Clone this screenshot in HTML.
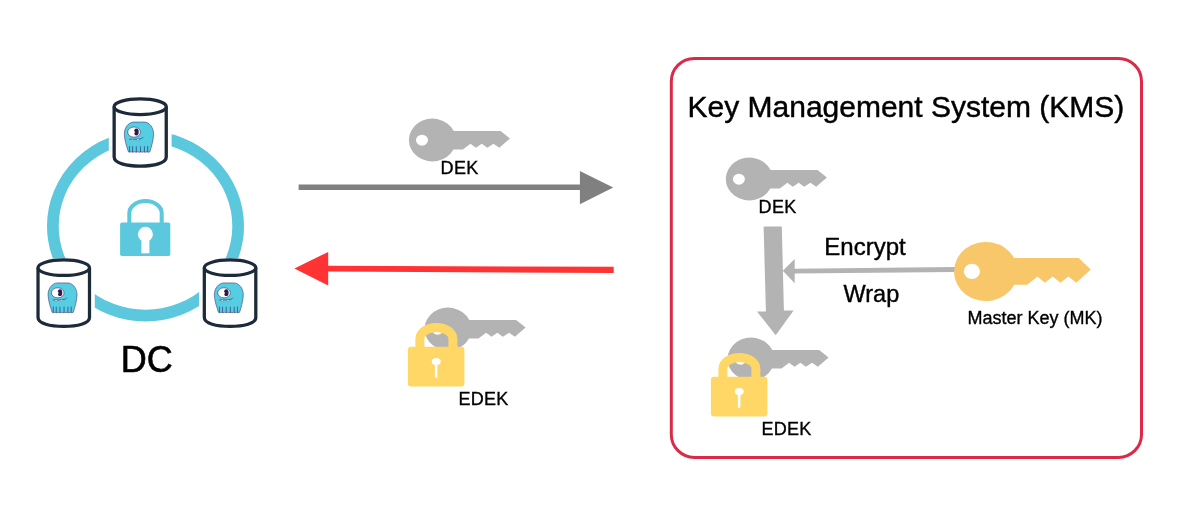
<!DOCTYPE html>
<html>
<head>
<meta charset="utf-8">
<style>
html,body{margin:0;padding:0;background:#ffffff;}
body{width:1200px;height:510px;overflow:hidden;position:relative;font-family:"Liberation Sans",sans-serif;}
svg{position:absolute;left:0;top:0;display:block;will-change:transform;}
text{font-family:"Liberation Sans",sans-serif;fill:#000;}
</style>
</head>
<body>
<svg width="1200" height="510" viewBox="0 0 1200 510">
<defs>
  <!-- key: origin = head bbox left/top; ~101 x 43 -->
  <g id="key">
    <path fill-rule="evenodd" d="M44.82 12.4 H91.7 L101.1 20 L90.4 29.2 L84.6 25.2 L78.4 29.2 L72.9 25.2 L67 29.2 L61.6 25.2 L54 31 H44.5 A23.5 21.4 0 1 1 44.82 12.4 Z M19.1 21.6 A6 5.5 0 1 0 7.1 21.6 A6 5.5 0 1 0 19.1 21.6 Z"/>
  </g>
  <!-- cylinder: origin = outer bbox left/top; 55.4 x 70.5 -->
  <g id="cyl">
    <rect x="-3.7" y="0" width="62.8" height="72" fill="#fff"/>
    <path d="M1.65 9.5 V59.8 C1.65 66 14 68.85 27.7 68.85 C41.4 68.85 53.75 66 53.75 59.8 V9.5" fill="#fff" stroke="#1d2a3a" stroke-width="3.3"/>
    <ellipse cx="27.7" cy="9.5" rx="26.05" ry="7.85" fill="#fff" stroke="#1d2a3a" stroke-width="3.3"/>
    <use href="#scylla" x="11.5" y="25.2"/>
  </g>
  <!-- scylla monster, ~30x30 -->
  <g id="scylla">
    <path d="M4.4 29.4 C3 24.5 0.5 18.5 0.3 11.8 C0.3 5.1 4.65 -0.35 10 -0.35 H20 C25.3 -0.35 29.7 5.1 29.6 11.8 C29.4 18.5 27.3 24.5 25.9 29.4 Q24.36 30.3 22.83 29.4 Q21.29 30.3 19.76 29.4 Q18.22 30.3 16.69 29.4 Q15.15 30.3 13.61 29.4 Q12.08 30.3 10.54 29.4 Q9.01 30.3 7.47 29.4 Q5.94 30.3 4.40 29.4 Z" fill="#55cde3" stroke="#3d2b63" stroke-width="0.55"/>
    <ellipse cx="10.1" cy="9.7" rx="6.4" ry="5.1" fill="#fff" stroke="#3d2b63" stroke-width="0.6"/>
    <path fill-rule="evenodd" d="M12.4 6.2 A2.3 3.4 0 1 1 12.4 13 A2.3 3.4 0 1 1 12.4 6.2 Z" fill="#2c1a50"/><ellipse cx="10.1" cy="9.8" rx="0.9" ry="1.0" fill="#fff"/>
    <path d="M5.2 16.9 C9 17.1 13 16.9 16.8 16.4 C17.8 16.1 18.6 15.6 19.3 14.6" fill="none" stroke="#3d2b63" stroke-width="0.6"/>
    <ellipse cx="8.4" cy="17.5" rx="1.1" ry="0.75" fill="#fff" stroke="#3d2b63" stroke-width="0.3"/>
    <ellipse cx="14" cy="17.1" rx="1.1" ry="0.75" fill="#fff" stroke="#3d2b63" stroke-width="0.3"/>
    <g stroke="#33306e" stroke-width="0.9" opacity="0.75" stroke-linecap="round"><path d="M5.6 24 V29.2 M8.6 24.2 V29.5 M12.3 24.2 V29.5 M16.5 24.2 V29.5 M20.4 24.2 V29.5 M23.7 24 V29.3"/></g>
  </g>
  <!-- padlock yellow: origin = body left/top of shackle outer bbox -->
  <g id="ylock">
    <path d="M12 24 V15.8 A16.5 11.3 0 0 1 45 15.8 V24" fill="none" stroke="#fed766" stroke-width="9"/>
    <rect x="0" y="23.8" width="56.5" height="39.7" rx="3.2" fill="#fed766"/>
    <ellipse cx="28.3" cy="38.5" rx="4.5" ry="3.5" fill="#fff"/>
    <rect x="27" y="38.5" width="2.5" height="16.2" fill="#fff"/>
  </g>
</defs>

<!-- ===== DC cluster ===== -->
<ellipse cx="145.5" cy="226.1" rx="92.65" ry="89.45" fill="none" stroke="#5bc8dd" stroke-width="11.7"/>

<!-- cyan lock -->
<g fill="#5bc8dd">
  <path d="M129.3 223 V213 A16.2 12 0 0 1 161.7 213 V223" fill="none" stroke="#5bc8dd" stroke-width="4"/>
  <rect x="120.1" y="222.6" width="50.2" height="33.5" rx="1.8"/>
</g>
<circle cx="145.4" cy="234.3" r="7.5" fill="#fff"/>
<rect x="141.4" y="234.3" width="8" height="19" fill="#fff"/>

<use href="#cyl" x="112.5" y="97.2"/>
<use href="#cyl" transform="translate(36.39 258.35) scale(0.988)"/>
<use href="#cyl" transform="translate(202.69 258.35) scale(0.988)"/>

<text x="120.8" y="371.8" font-size="36" stroke="#000" stroke-width="0.6">DC</text>

<!-- ===== middle ===== -->
<use href="#key" x="408.9" y="118.6" fill="#b3b3b3"/>
<text x="440.6" y="173.9" font-size="18" letter-spacing="0.3" stroke="#000" stroke-width="0.35">DEK</text>

<!-- gray arrow -->
<path d="M298.6 184.6 H579.9 V171 L613.2 187.5 L579.9 204.2 V190.1 H298.6 Z" fill="#808080"/>

<!-- red arrow -->
<path d="M613.7 266.8 L613.7 272.9 L328.2 271.5 L328.2 285.4 L294.4 268.4 L328.2 251.9 L328.2 265.8 Z" fill="#ff3333"/>

<!-- EDEK middle -->
<use href="#key" x="424.5" y="307.6" fill="#b3b3b3"/>
<use href="#ylock" x="407.9" y="322.9"/>
<text x="458.4" y="404.75" font-size="18" letter-spacing="0.3" stroke="#000" stroke-width="0.35">EDEK</text>

<!-- ===== KMS ===== -->
<rect x="671.3" y="58.4" width="470.2" height="399" rx="23" fill="none" stroke="#da2a47" stroke-width="3"/>
<text x="687.5" y="116.6" font-size="30" stroke="#000" stroke-width="0.45">Key Management System (KMS)</text>

<use href="#key" x="725.8" y="157.6" fill="#b3b3b3"/>
<text x="758.6" y="212.75" font-size="18" letter-spacing="0.3" stroke="#000" stroke-width="0.35">DEK</text>

<!-- vertical arrow -->
<path d="M763.6 226.4 L781.8 226.4 L783.9 310.4 L793.6 310.4 L775.7 335.3 L757 311.5 L765.9 311.4 Z" fill="#b3b3b3"/>

<!-- horizontal arrow -->
<path d="M955 266.9 L955 272 L794.7 273.45 L794.7 283.3 L782.8 270.8 L794.7 259 L794.7 268.8 Z" fill="#b3b3b3"/>

<text x="824.3" y="254.8" font-size="24" stroke="#000" stroke-width="0.4">Encrypt</text>
<text x="843.5" y="302.1" font-size="23.5" stroke="#000" stroke-width="0.4">Wrap</text>

<!-- master key -->
<path fill="#f7c76a" fill-rule="evenodd" d="M1014.05 257.9 H1078.7 L1090.8 269.5 L1076.3 282.7 L1068.4 276.4 L1060.4 282.7 L1052.7 276.4 L1044.9 282.7 L1037.4 276.4 L1027.3 284.7 H1014.26 A31.8 29.6 0 1 1 1014.05 257.9 Z M980 271.4 A8.1 7.6 0 1 0 963.8 271.4 A8.1 7.6 0 1 0 980 271.4 Z"/>
<text x="967.5" y="324" font-size="18" stroke="#000" stroke-width="0.35">Master Key (MK)</text>

<!-- EDEK in KMS -->
<use href="#key" x="727.5" y="337.6" fill="#b3b3b3"/>
<use href="#ylock" x="710.9" y="353"/>
<text x="761.4" y="434.85" font-size="18" letter-spacing="0.3" stroke="#000" stroke-width="0.35">EDEK</text>
</svg>
</body>
</html>
